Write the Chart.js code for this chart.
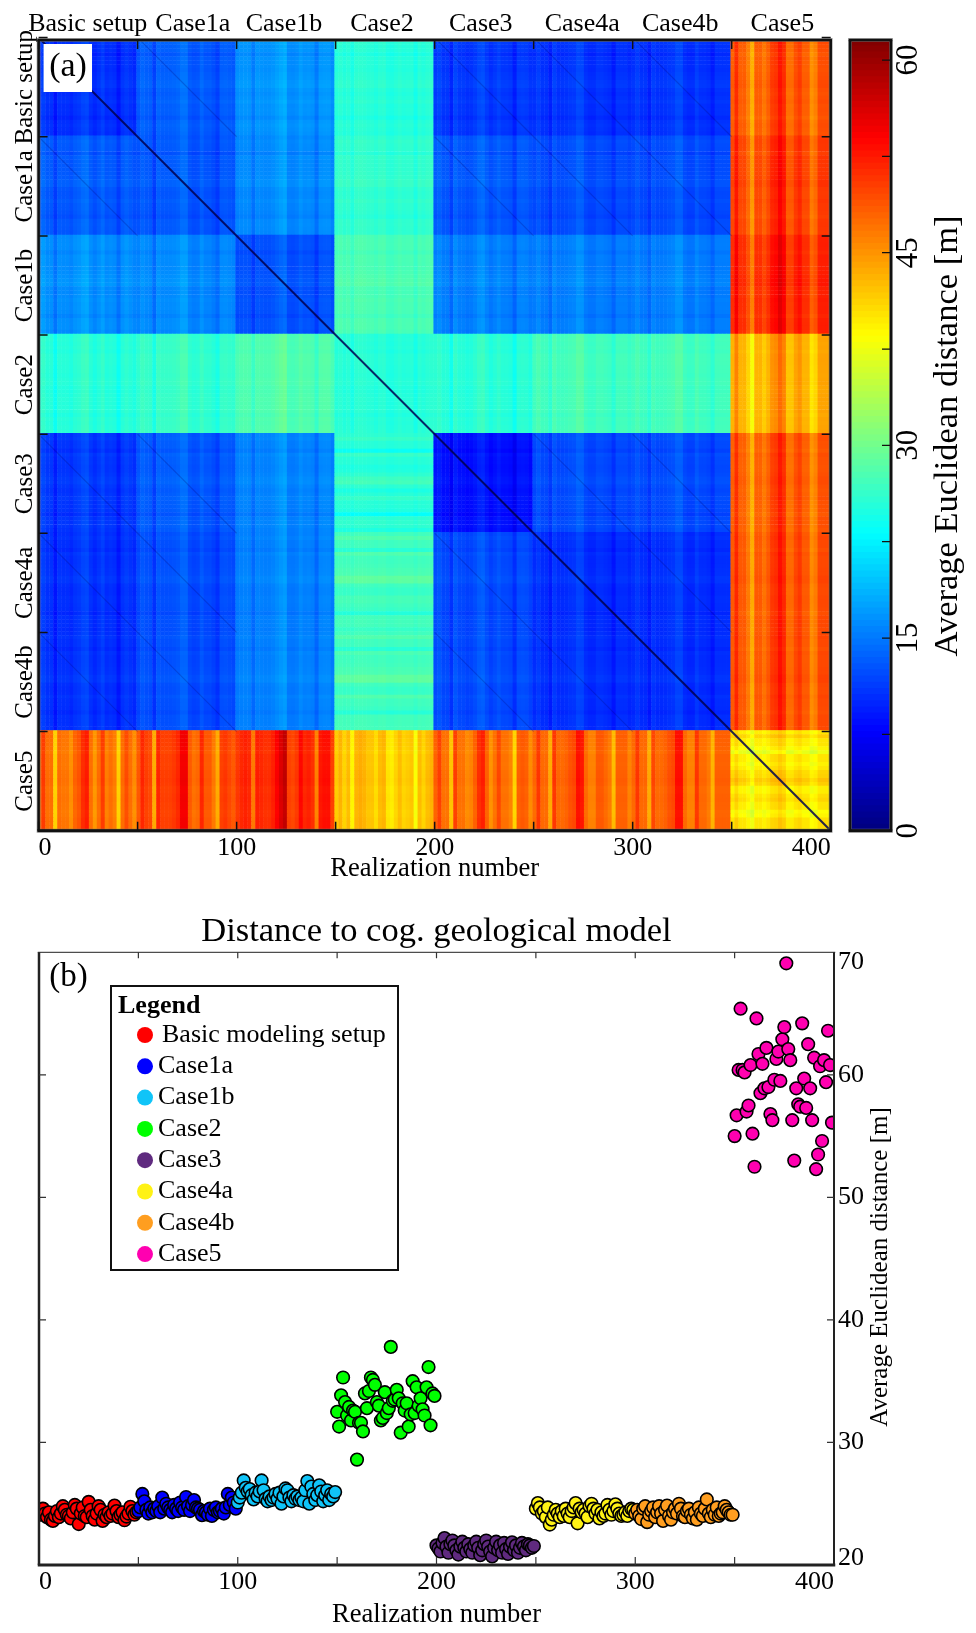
<!DOCTYPE html>
<html>
<head>
<meta charset="utf-8">
<title>Distance matrix and distance to cog. geological model</title>
<script src="https://cdn.jsdelivr.net/npm/chart.js@4"></script>
<style>
  html, body { margin: 0; padding: 0; background: #fff; }
  #page { position: relative; width: 976px; height: 1633px; overflow: hidden; }
  canvas { position: absolute; display: block; }
</style>
</head>
<body>
<div id="page">
  <canvas id="heat" width="845" height="885" style="left:0;top:0"></canvas>
  <canvas id="bar" width="131" height="885" style="left:845px;top:0"></canvas>
  <canvas id="dots" width="976" height="728" style="left:0;top:905px"></canvas>
</div>
<script>
// ---------- data ----------
const caseNames = ['Basic setup', 'Case1a', 'Case1b', 'Case2', 'Case3', 'Case4a', 'Case4b', 'Case5'];
const legendNames = ['Basic modeling setup', 'Case1a', 'Case1b', 'Case2', 'Case3', 'Case4a', 'Case4b', 'Case5'];
const topLabelAt = [24.8, 77.9, 123.9, 173.4, 223.3, 274.5, 324, 375.6];
const caseMiddles = [25, 75, 125, 175, 225, 275, 325, 375];
const matrixTicks = [0, 50, 100, 150, 200, 250, 300, 350, 400];
const barTicks = [0, 15, 30, 45, 60];
const barMax = 61.56;

// mean distance between the cases, one row per case
const blockMeans = [
  [10.6, 13.0, 16.2, 25.5, 11.0, 10.6, 10.6, 48.2],
  [13.0, 12.5, 15.5, 26.0, 12.8, 12.0, 12.0, 49.5],
  [16.2, 15.5, 12.0, 27.5, 15.2, 15.0, 15.0, 51.0],
  [25.5, 26.0, 27.5, 25.5, 25.5, 27.0, 27.0, 43.0],
  [11.0, 12.8, 15.2, 25.5,  8.5, 12.0, 12.0, 48.0],
  [10.6, 12.0, 15.0, 27.0, 12.0, 10.2, 10.3, 48.5],
  [10.6, 12.0, 15.0, 27.0, 12.0, 10.3, 10.2, 48.5],
  [47.2, 48.5, 50.0, 42.0, 47.0, 47.5, 47.5, 39.5]
];

// stripes seen in the Case5 row / column, one value per two realizations
const stripesBasic = [0, 3, 0, 0, -6, 0, -0.5, -0.5, -2, 0.5, 1.5, 4, 5, 0, -2.5, 0, 3, -1, 0, -1, -6, 0, 2, 0, -2];
const stripesCase1a = [0, 3, 1.5, 1, -5, 3, 1.5, 1.5, 1.5, 2, 3, 6, 6, 0, -1.5, -1, 3, 0, 0, -2, -5, 1.5, 2, 1, 0];
const stripesCase1b = [0.5, 1.5, 2, 1.5, -3.5, 2, 1.5, 1, 1, 2, 4, 6, 7.5, 0, -0.5, 0.5, 3.5, 1.5, 2, 1, -4, 2.5, 3, 3, 0];
const stripesCase2 = [-0.5, 1, -1, 0.5, -3, 1, 1.5, 1, 0, 0, -1.5, 0.5, 1, -2, -2.5, -1, 0.5, -1, -0.5, 0, -4, 0.5, -1, 0.5, 1];
const stripesCase3 = [1, 3, 0, 0, -5, 3, 0, 0, -1.5, -1, 1, 4, 5, 1, -2, 0, 2.5, 0, 0, -1, -6, 1, 1.5, 1, -1.5];
const stripesCase4a = [0, 3, 0, 0, -4, 3, 0, 0, 0.5, 1.5, 2, 5.5, 5, 0, -1.5, -1.5, 1, 1, 0, -1, -5, 0.5, 0.5, 0.5, -1.5];
const stripesCase4b = [0, 3, 0, 0, -4, 2, 0, 0, 0.5, 1.5, 2, 5.5, 5.5, 0, -1.5, -1.5, 3, 0, 0, -1, -4.5, 0.5, 0.5, 0.5, 0.5];
const stripesCase5 = [0, 3, 0, 0, -2, -5, 0, 0, -1.5, 0, 2, 2.5, 4.5, 3, -1, -1, 1, 2, 0, 0, -3, -2, 1, 1, 1];

// cases that share seeds: faint diagonals show up between them
const sharedSeedCases = [0, 1, 4, 5, 6];

// panel (b), one value per realization
const distBasic = [24.4, 24.1, 24.6, 24.2, 23.9, 24.3, 23.7, 23.6, 24.0, 24.4, 23.9, 24.2, 24.8, 24.5, 24.1, 24.0, 23.8, 24.3, 24.9, 24.6, 23.34, 24.2, 24.7, 24.0, 23.9, 25.15, 24.5, 24.0, 23.7, 24.2, 24.8, 24.5, 23.6, 24.1, 23.9, 24.3, 24.0, 24.2, 24.85, 24.4, 23.9, 24.1, 24.3, 23.65, 23.95, 24.2, 24.75, 24.4, 24.1, 24.3];
const distCase1a = [24.4, 24.7, 25.8, 25.2, 24.5, 24.2, 24.7, 24.3, 24.6, 24.4, 24.8, 24.3, 25.5, 24.6, 25.0, 24.7, 24.5, 24.3, 24.9, 24.6, 24.4, 25.1, 24.7, 24.5, 25.55, 24.8, 24.4, 24.9, 25.3, 24.7, 24.6, 24.5, 24.07, 24.4, 24.3, 24.1, 24.6, 24.0, 24.5, 24.7, 24.3, 24.4, 24.6, 24.2, 24.7, 25.8, 24.9, 25.5, 25.1, 24.6];
const distCase1b = [25.1, 25.5, 25.9, 26.9, 26.3, 26.0, 26.2, 25.7, 25.35, 25.9, 25.6, 26.0, 26.9, 26.1, 25.4, 25.2, 25.6, 25.3, 25.5, 25.8, 25.4, 25.9, 25.0, 25.6, 26.25, 26.1, 25.5, 25.2, 25.7, 25.4, 25.6, 25.3, 25.5, 25.2, 26.1, 26.85, 25.0, 26.4, 25.8, 25.3, 25.7, 26.5, 26.0, 25.2, 25.7, 26.1, 25.3, 25.8, 25.6, 25.95];
const distCase2 = [32.5, 31.3, 33.85, 35.3, 33.3, 32.2, 32.9, 31.8, 32.6, 32.5, 28.6, 31.6, 31.6, 30.9, 34.0, 32.8, 34.2, 35.3, 35.1, 34.7, 33.3, 33.0, 31.8, 32.0, 34.1, 32.4, 32.8, 37.8, 33.4, 33.5, 34.3, 33.6, 30.8, 33.2, 32.6, 33.2, 31.3, 32.3, 35.0, 32.4, 34.5, 33.0, 33.6, 32.7, 32.2, 34.5, 36.15, 31.4, 34.0, 33.8];
const distCase3 = [21.6, 21.35, 21.1, 21.8, 22.2, 21.5, 21.0, 21.7, 22.0, 21.6, 21.2, 20.85, 21.5, 21.9, 21.4, 21.1, 21.7, 21.3, 21.0, 21.6, 21.9, 21.4, 20.8, 21.2, 21.7, 22.0, 21.5, 21.1, 20.7, 21.4, 21.9, 21.2, 21.6, 21.0, 21.8, 21.3, 20.9, 21.5, 21.85, 21.2, 21.6, 21.0, 21.4, 21.8, 21.5, 21.2, 21.7, 21.6, 21.4, 21.55];
const distCase4a = [24.6, 25.05, 24.7, 24.2, 24.4, 23.9, 24.7, 23.3, 23.7, 24.1, 24.5, 24.2, 23.9, 24.4, 24.0, 24.6, 24.2, 23.9, 24.4, 24.7, 25.05, 23.4, 24.6, 24.3, 24.5, 24.2, 23.9, 24.8, 25.0, 24.6, 24.2, 24.5, 23.8, 24.3, 24.0, 24.2, 24.9, 24.5, 24.1, 24.4, 24.95, 24.6, 24.2, 24.0, 24.1, 24.3, 24.0, 24.4, 24.6, 24.5];
const distCase4b = [24.2, 24.5, 24.0, 23.75, 24.6, 24.8, 23.5, 24.1, 24.4, 24.7, 23.9, 24.3, 24.8, 24.2, 23.6, 24.5, 24.85, 24.0, 23.7, 24.3, 24.6, 24.2, 25.0, 24.6, 24.0, 23.9, 24.4, 24.6, 24.1, 23.8, 24.3, 23.7, 24.7, 24.2, 24.0, 24.6, 25.35, 24.2, 23.9, 24.5, 24.1, 24.7, 24.0, 24.2, 24.3, 24.8, 24.5, 24.3, 24.1, 24.1];
const distCase5 = [55, 56.7, 60.4, 65.4, 60.4, 60.2, 57, 57.5, 60.8, 55.2, 52.5, 64.6, 61.7, 58.5, 60.9, 58.9, 62.2, 59, 56.8, 56.3, 59.6, 61.3, 61.9, 59.5, 62.9, 63.9, 69.1, 62.1, 61.2, 56.3, 53.0, 58.9, 57.6, 57.4, 64.2, 59.7, 57.3, 62.5, 58.9, 56.3, 61.4, 52.3, 53.5, 60.7, 54.6, 61.2, 59.4, 63.6, 60.8, 56.1];

// ---------- styles ----------
const SERIF = '"Liberation Serif", serif';
const seriesColors = ['#ff0000', '#0000ff', '#10c4f8', '#00ff00', '#5f2a7f', '#fff215', '#ff9e20', '#ff00b0'];
const allStripes = [stripesBasic, stripesCase1a, stripesCase1b, stripesCase2, stripesCase3, stripesCase4a, stripesCase4b, stripesCase5];
const allDistances = [distBasic, distCase1a, distCase1b, distCase2, distCase3, distCase4a, distCase4b, distCase5];

Chart.defaults.font.family = SERIF;
Chart.defaults.color = '#000';
Chart.defaults.animation = false;
Chart.defaults.responsive = false;
Chart.defaults.devicePixelRatio = 1;
Chart.defaults.plugins.legend.display = false;
Chart.defaults.plugins.tooltip.enabled = false;

function jet(v) {
  const f = Math.min(1, Math.max(0, v / barMax));
  const ramp = (c) => Math.round(255 * Math.min(1, Math.max(0, 1.5 - Math.abs(4 * f - c))));
  return 'rgb(' + ramp(3) + ',' + ramp(2) + ',' + ramp(1) + ')';
}

// how strongly the column and row stripes show in a block
function stripeGains(a, b) {
  if (a === 7 && b === 7) return [0.5, 0.5];
  if (a === 7 || b === 7) return [1, 0.08];
  if (b === 3 && a > 3) return [0.12, 0.35];
  return [0.28, 0.1];
}

// frame, inward ticks and free text, all in one small plugin
const panelDecor = {
  id: 'panelDecor',
  afterDatasetsDraw(chart, args, opts) {
    const ctx = chart.ctx;
    const a = chart.chartArea;
    ctx.save();
    if (opts.halo) {
      ctx.strokeStyle = 'rgba(120,120,120,0.6)';
      ctx.lineWidth = 4;
      ctx.strokeRect(a.left, a.top, a.width, a.height);
    }
    ctx.fillStyle = opts.frameColor || '#111';
    const w = opts.frame; // top, right, bottom, left
    ctx.fillRect(a.left - w[3] / 2, a.top - w[0] / 2, a.width + w[3], w[0]);
    ctx.fillRect(a.right - w[1] / 2, a.top, w[1], a.height);
    ctx.fillRect(a.left - w[3] / 2, a.bottom - w[2] / 2, a.width + w[3], w[2]);
    ctx.fillRect(a.left - w[3] / 2, a.top, w[3], a.height);

    ctx.strokeStyle = opts.tickColor || '#111';
    ctx.lineWidth = opts.tickWidth || 1.5;
    ctx.beginPath();
    (opts.xTicks || []).forEach((v) => {
      const x = chart.scales.x.getPixelForValue(v);
      ctx.moveTo(x, a.top);
      ctx.lineTo(x, a.top + opts.tickTop);
      ctx.moveTo(x, a.bottom);
      ctx.lineTo(x, a.bottom - opts.tickBottom);
    });
    (opts.yTicks || []).forEach((v) => {
      const y = chart.scales.y.getPixelForValue(v);
      if (opts.tickLeft) {
        ctx.moveTo(a.left, y);
        ctx.lineTo(a.left + opts.tickLeft, y);
      }
      ctx.moveTo(a.right, y);
      ctx.lineTo(a.right - opts.tickRight, y);
    });
    ctx.stroke();

    (opts.notes || []).forEach((n) => {
      if (n.box) {
        ctx.fillStyle = '#fff';
        ctx.fillRect(n.box[0], n.box[1], n.box[2], n.box[3]);
      }
      ctx.save();
      ctx.translate(n.x, n.y);
      ctx.rotate((n.rotate || 0) * Math.PI / 180);
      ctx.font = n.font;
      ctx.fillStyle = '#000';
      ctx.textAlign = 'center';
      ctx.textBaseline = 'middle';
      ctx.fillText(n.text, 0, 0);
      ctx.restore();
    });
    ctx.restore();
  }
};

// legend box of panel (b), reads names and colours from the datasets
const boxLegend = {
  id: 'boxLegend',
  afterDraw(chart) {
    const ctx = chart.ctx;
    const items = chart.data.datasets;
    ctx.save();
    ctx.fillStyle = '#fff';
    ctx.strokeStyle = '#111';
    ctx.lineWidth = 2;
    ctx.fillRect(111, 81, 287, 284);
    ctx.strokeRect(111, 81, 287, 284);
    ctx.fillStyle = '#000';
    ctx.textBaseline = 'middle';
    ctx.font = 'bold 26px ' + SERIF;
    ctx.fillText('Legend', 118, 101);
    ctx.font = '26px ' + SERIF;
    items.forEach((d, i) => {
      const y = 130 + i * 31.3;
      ctx.beginPath();
      ctx.arc(145, y, 8, 0, Math.PI * 2);
      ctx.fillStyle = d.pointBackgroundColor;
      ctx.fill();
      ctx.fillStyle = '#000';
      ctx.fillText(d.label, i === 0 ? 162 : 158, y);
    });
    ctx.restore();
  }
};

// ---------- panel (a) ----------
const cellPoints = [];
const cellColors = [];
caseNames.forEach((rowName, a) => {
  allStripes[a].forEach((rowStripe, r) => {
    caseNames.forEach((colName, b) => {
      const gains = stripeGains(a, b);
      allStripes[b].forEach((colStripe, c) => {
        const v = blockMeans[a][b] + gains[0] * colStripe + gains[1] * rowStripe;
        cellPoints.push({ x: 50 * b + 2 * c + 0.5, y: 50 * a + 2 * r + 0.5 });
        cellColors.push(jet(v));
      });
    });
  });
});

const faintPoints = [];
sharedSeedCases.forEach((a) => {
  sharedSeedCases.forEach((b) => {
    if (a === b) return;
    faintPoints.push({ x: 50 * b, y: 50 * a }, { x: 50 * b + 50, y: 50 * a + 50 }, { x: NaN, y: NaN });
  });
});

new Chart(document.getElementById('heat'), {
  type: 'scatter',
  plugins: [panelDecor],
  data: {
    datasets: [
      { data: [{ x: 0, y: 0 }, { x: 400, y: 400 }], showLine: true, borderColor: 'rgba(0,0,80,0.85)', borderWidth: 2, pointRadius: 0, clip: 0 },
      { data: faintPoints, showLine: true, spanGaps: false, borderColor: 'rgba(0,0,110,0.22)', borderWidth: 1.2, pointRadius: 0, clip: 0 },
      { data: cellPoints, parsing: false, normalized: true, pointStyle: 'rect', pointRadius: 3.15, pointBorderWidth: 0, pointBackgroundColor: cellColors, clip: 0 }
    ]
  },
  options: {
    events: [],
    layout: { padding: { right: 14.3 } },
    scales: {
      x: {
        type: 'linear', min: 0, max: 400, position: 'bottom',
        grid: { display: false, drawTicks: false }, border: { display: false },
        ticks: { stepSize: 100, align: 'inner', padding: 2, maxRotation: 0, font: { size: 26 } },
        title: { display: true, text: 'Realization number', padding: 0, font: { size: 26.6 }, color: '#000' },
        afterFit: (s) => { s.height = 54.3; }
      },
      xTop: {
        type: 'linear', min: 0, max: 400, position: 'top',
        grid: { display: false, drawTicks: false }, border: { display: false },
        afterBuildTicks: (s) => { s.ticks = topLabelAt.map((v) => ({ value: v })); },
        ticks: { autoSkip: false, maxRotation: 0, padding: 0, font: { size: 26 }, callback: (v, i) => caseNames[i] },
        afterFit: (s) => { s.height = 40; }
      },
      y: {
        type: 'linear', min: 1.2, max: 400, reverse: true, position: 'left',
        grid: { display: false, drawTicks: false }, border: { display: false },
        afterBuildTicks: (s) => { s.ticks = caseMiddles.map((v) => ({ value: v })); },
        ticks: { autoSkip: false, minRotation: 90, maxRotation: 90, crossAlign: 'center', padding: -44, font: { size: 25 }, callback: (v, i) => caseNames[i] },
        afterFit: (s) => { s.width = 38.6; }
      }
    },
    plugins: {
      panelDecor: {
        frame: [2.5, 2.5, 3, 2.5], halo: true,
        xTicks: matrixTicks, yTicks: matrixTicks,
        tickTop: 9, tickBottom: 9, tickLeft: 9, tickRight: 9,
        notes: [{ text: '(a)', x: 68, y: 67, font: '34px ' + SERIF, box: [43.6, 44, 48.4, 48] }]
      }
    }
  }
});

// ---------- colour bar ----------
const barLevels = [];
for (let lo = 0; lo < barMax; lo += barMax / 128) barLevels.push(lo);

new Chart(document.getElementById('bar'), {
  type: 'bar',
  plugins: [panelDecor],
  data: {
    labels: [''],
    datasets: barLevels.map((lo) => ({
      data: [[lo, Math.min(barMax, lo + barMax / 120)]],
      backgroundColor: jet(lo + barMax / 256),
      borderWidth: 0, barPercentage: 1, categoryPercentage: 1, grouped: false
    }))
  },
  options: {
    events: [],
    layout: { padding: { left: 5, top: 40, bottom: 54.3 } },
    scales: {
      x: { display: false },
      y: {
        type: 'linear', min: 0, max: barMax, position: 'right',
        grid: { display: false, drawTicks: false }, border: { display: false },
        afterBuildTicks: (s) => { s.ticks = barTicks.map((v) => ({ value: v })); },
        ticks: { autoSkip: false, minRotation: 90, maxRotation: 90, crossAlign: 'center', padding: 2, font: { size: 31 } },
        afterFit: (s) => { s.width = 85; }
      }
    },
    plugins: {
      panelDecor: {
        frame: [2.5, 2.5, 3, 2.5], halo: true,
        yTicks: [7.5, 15, 22.5, 30, 37.5, 45, 52.5, 60],
        tickRight: 9, tickWidth: 1.2,
        notes: [{ text: 'Average Euclidean distance [m]', x: 103, y: 436, rotate: -90, font: '34.5px ' + SERIF }]
      }
    }
  }
});

// ---------- panel (b) ----------
new Chart(document.getElementById('dots'), {
  type: 'scatter',
  plugins: [panelDecor, boxLegend],
  data: {
    datasets: allDistances.map((values, s) => ({
      label: legendNames[s],
      data: values.map((y, i) => ({ x: 50 * s + i, y: y })),
      pointRadius: 6.3,
      pointBorderWidth: 1.6,
      pointBorderColor: '#000',
      pointBackgroundColor: seriesColors[s],
      clip: 0,
      order: allDistances.length - s
    }))
  },
  options: {
    events: [],
    layout: { padding: { left: 39 } },
    scales: {
      x: {
        type: 'linear', min: 0, max: 400, position: 'bottom',
        grid: { display: false, drawTicks: false }, border: { display: false },
        ticks: { stepSize: 100, align: 'inner', padding: 2, maxRotation: 0, font: { size: 26 } },
        title: { display: true, text: 'Realization number', padding: { top: 0, bottom: 2 }, font: { size: 26.6 }, color: '#000' },
        afterFit: (s) => { s.height = 68; }
      },
      y: {
        type: 'linear', min: 20, max: 70, position: 'right',
        grid: { display: false, drawTicks: false }, border: { display: false },
        ticks: { stepSize: 10, padding: 4, font: { size: 26 }, callback: (v) => (v === 20 || v === 70 ? '' : v) },
        afterFit: (s) => { s.width = 142; }
      }
    },
    plugins: {
      title: {
        display: true, fullSize: false, text: 'Distance to cog. geological model',
        font: { size: 34.5, weight: 'normal' }, color: '#000', padding: { top: 5.9, bottom: 0 }
      },
      panelDecor: {
        frame: [1, 2, 3, 2.5], frameColor: '#222',
        xTicks: matrixTicks.slice(1, -1), yTicks: [30, 40, 50, 60],
        tickTop: 6, tickBottom: 8, tickLeft: 7, tickRight: 7, tickWidth: 1.2, tickColor: '#333',
        notes: [
          { text: '(b)', x: 68.5, y: 72, font: '33px ' + SERIF },
          { text: '70', x: 851, y: 57, font: '26px ' + SERIF },
          { text: '20', x: 851, y: 653, font: '26px ' + SERIF },
          { text: 'Average Euclidean distance [m]', x: 880, y: 362, rotate: -90, font: '25px ' + SERIF }
        ]
      }
    }
  }
});
</script>
</body>
</html>
